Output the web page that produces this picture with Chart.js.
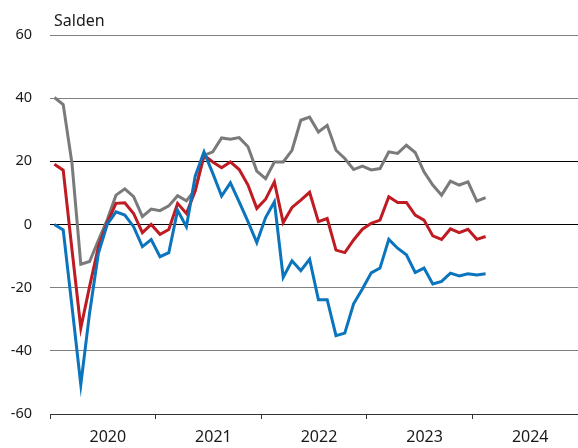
<!DOCTYPE html>
<html>
<head>
<meta charset="utf-8">
<script src="https://cdn.jsdelivr.net/npm/chart.js@4/dist/chart.umd.min.js"></script>
<style>
  html, body { margin: 0; padding: 0; background: #fff; }
  #wrap { width: 578px; height: 448px; position: relative; }
</style>
</head>
<body>
<div id="wrap"><canvas id="chart" width="578" height="448"></canvas></div>
<script>
// monthly values, Jan 2020 - Feb 2024
const years = ["2020", "2021", "2022", "2023", "2024"];
const yTicks = [-60, -40, -20, 0, 20, 40, 60];
const axisTitle = "Salden";

const grayValues = [
  40.2, 38, 19.3, -12.6, -11.7, -5, 1.5, 9.3, 11.3, 8.8, 2.5, 4.9,
  4.4, 5.9, 9.1, 7.5, 10.9, 21.9, 23, 27.4, 27, 27.5, 24.6, 16.9,
  14.5, 19.8, 19.8, 23.5, 33, 34, 29.3, 31.4, 23.5, 20.9, 17.4, 18.5,
  17.3, 17.7, 23, 22.5, 25.1, 22.8, 16.7, 12.5, 9.3, 13.7, 12.5, 13.5,
  7.4, 8.5
];
const redValues = [
  19.1, 17.2, -8, -32.8, -19.6, -7, 0.5, 6.7, 6.9, 3.5, -2.6, 0,
  -3.1, -1.6, 6.7, 3.5, 10.6, 21.9, 19.8, 18, 19.8, 17.4, 12.5, 5.1,
  8, 13.5, 0.6, 5.4, 7.7, 10.2, 0.9, 1.9, -8.1, -8.9, -4.9, -1.5,
  0.4, 1.4, 8.8, 7, 7, 3, 1.4, -3.6, -4.7, -1.4, -2.6, -1.5,
  -4.7, -3.8
];
const blueValues = [
  0, -1.7, -26, -50.7, -28, -9.1, 0, 4, 3, -0.7, -7, -4.8,
  -10.2, -8.9, 4.5, -0.7, 15.3, 23, 16.2, 9, 13.2, 7.2, 0.9, -5.7,
  2.2, 7.2, -16.7, -11.5, -14.6, -11, -23.8, -23.8, -35.2, -34.4, -25.1, -20.4,
  -15.3, -13.8, -4.7, -7.5, -9.6, -15.2, -13.8, -18.8, -18, -15.4, -16.3, -15.6,
  -16, -15.6
];

const FONT = "'Noto Sans', 'Open Sans', sans-serif";

function toPoints(values) {
  // each month sits in the middle of its slot
  return values.map((v, i) => ({ x: i + 0.5, y: v }));
}

const titlePlugin = {
  id: "saldenTitle",
  afterDraw(chart) {
    const ctx = chart.ctx;
    ctx.save();
    ctx.font = "16px " + FONT;
    ctx.fillStyle = "#1a1a1a";
    ctx.textBaseline = "alphabetic";
    ctx.fillText(axisTitle, 54, 25.5);
    ctx.restore();
  }
};

const ctx = document.getElementById("chart");

new Chart(ctx, {
  type: "line",
  data: {
    datasets: [
      { data: toPoints(blueValues), borderColor: "#0a74bd" },
      { data: toPoints(redValues), borderColor: "#be1b22" },
      { data: toPoints(grayValues), borderColor: "#7a7a7a" }
    ]
  },
  options: {
    responsive: false,
    animation: false,
    layout: { autoPadding: false, padding: { top: 35, right: 0, bottom: 0, left: 0 } },
    elements: {
      line: { borderWidth: 3, tension: 0, borderJoinStyle: "miter" },
      point: { radius: 0, hoverRadius: 0 }
    },
    plugins: {
      legend: { display: false },
      tooltip: { enabled: false }
    },
    scales: {
      x: {
        type: "linear",
        min: 0,
        max: years.length * 12,
        afterBuildTicks(scale) {
          const t = [];
          for (let v = 0; v <= years.length * 12; v += 6) t.push({ value: v });
          scale.ticks = t;
        },
        afterFit(scale) {
          scale.height = 34;
          scale.paddingLeft = 0;
          scale.paddingRight = 0;
        },
        border: { display: true, color: "#333", width: 1 },
        grid: {
          drawOnChartArea: false,
          drawTicks: true,
          tickLength: 5,
          tickWidth: 1,
          tickColor: (c) => (c.tick && c.tick.value % 12 === 0 ? "#333" : "rgba(0,0,0,0)")
        },
        ticks: {
          autoSkip: false,
          maxRotation: 0,
          padding: 9,
          labelOffset: 5,
          color: "#1a1a1a",
          font: { family: FONT, size: 16 },
          callback: (v) => (v % 12 === 6 ? years[(v - 6) / 12] : "")
        }
      },
      y: {
        min: -60,
        max: 60,
        afterBuildTicks(scale) {
          scale.ticks = yTicks.map((v) => ({ value: v }));
        },
        afterFit(scale) { scale.width = 50; },
        border: { display: false },
        grid: {
          drawTicks: false,
          lineWidth: 1,
          color: (c) => {
            const v = c.tick ? c.tick.value : null;
            if (v === 0 || v === 20) return "#000";
            if (v === -60) return "#333";
            return "#808080";
          }
        },
        ticks: {
          padding: 18,
          color: "#1a1a1a",
          font: { family: FONT, size: 14.5 }
        }
      }
    }
  },
  plugins: [titlePlugin]
});
</script>
</body>
</html>
